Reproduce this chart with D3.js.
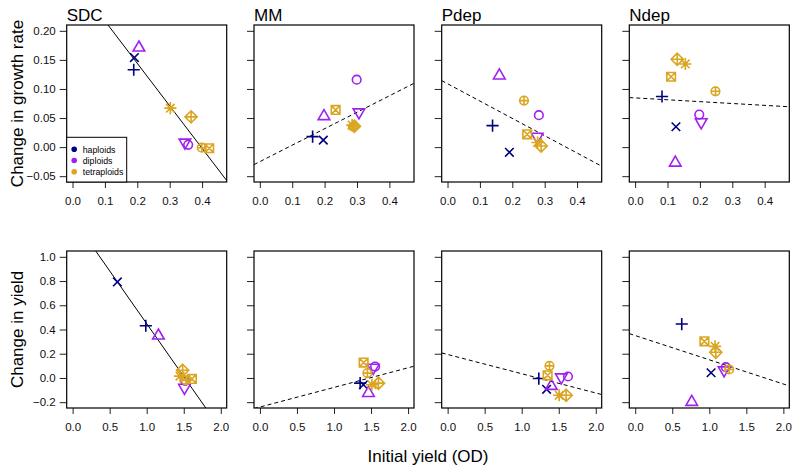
<!DOCTYPE html>
<html><head><meta charset="utf-8">
<script src="https://cdn.jsdelivr.net/npm/d3@7"></script>
<style>body{margin:0;background:#fff}svg{display:block;font-family:"Liberation Sans",Arial,Helvetica,sans-serif}</style>
</head><body><svg id="c" width="800" height="474"></svg>
<script>
// ---------- data ----------
const panels = ["SDC", "MM", "Pdep", "Ndep"];
const strainPloidy = ["haploids","haploids","diploids","diploids","diploids","tetraploids","tetraploids","tetraploids","tetraploids"];
const strainPch = [3, 4, 2, 1, 6, 8, 9, 10, 7];
const ploidyNames = ["haploids", "diploids", "tetraploids"];
const ploidyColors = ["#000080", "#A020F0", "#DAA520"];

// growth-rate row: [initial, change] per strain (same order as strainPch)
const growthSDC  = [[0.189,0.133],[0.191,0.154],[0.205,0.171],[0.357,0.004],[0.347,0.008],[0.302,0.067],[0.366,0.052],[0.399,-0.001],[0.422,-0.002]];
const growthMM   = [[0.163,0.018],[0.196,0.012],[0.198,0.053],[0.299,0.116],[0.306,0.060],[0.285,0.038],[0.292,0.036],[0.288,0.035],[0.234,0.064]];
const growthPdep = [[0.139,0.037],[0.191,-0.009],[0.160,0.123],[0.282,0.055],[0.277,0.018],[0.278,0.008],[0.289,0.002],[0.236,0.080],[0.246,0.022]];
const growthNdep = [[0.083,0.087],[0.126,0.035],[0.124,-0.027],[0.198,0.056],[0.204,0.043],[0.155,0.143],[0.130,0.151],[0.248,0.096],[0.111,0.121]];
// yield row
const yieldSDC  = [[0.988,0.431],[0.604,0.793],[1.158,0.349],[1.52,-0.025],[1.51,-0.080],[1.45,0.015],[1.485,0.063],[1.53,-0.020],[1.61,-0.008]];
const yieldMM   = [[1.353,-0.043],[1.397,-0.056],[1.465,-0.125],[1.555,0.094],[1.53,0.085],[1.511,-0.056],[1.60,-0.043],[1.451,0.040],[1.40,0.127]];
const yieldPdep = [[1.231,-0.005],[1.336,-0.094],[1.40,-0.067],[1.625,0.012],[1.535,0.006],[1.506,-0.143],[1.60,-0.143],[1.375,0.100],[1.35,0.022]];
const yieldNdep = [[0.628,0.445],[1.024,0.043],[0.763,-0.199],[1.223,0.089],[1.20,0.064],[1.078,0.261],[1.088,0.212],[1.268,0.070],[0.934,0.302]];

// fitted lines: intercept, slope, significant (solid) or not (dashed)
const growthFitIntercept = [0.290, -0.025, 0.109, 0.0846];
const growthFitSlope     = [-0.730, 0.283, -0.298, -0.032];
const growthFitSolid     = [true, false, false, false];
const yieldFitIntercept  = [1.320, -0.240, 0.194, 0.350];
const yieldFitSlope      = [-0.872, 0.162, -0.159, -0.200];
const yieldFitSolid      = [true, false, false, false];

const growthXTicks = [0, 0.1, 0.2, 0.3, 0.4];
const growthYTicks = [-0.05, 0, 0.05, 0.10, 0.15, 0.20];
const yieldXTicks  = [0, 0.5, 1.0, 1.5, 2.0];
const yieldYTicks  = [-0.2, 0, 0.2, 0.4, 0.6, 0.8, 1.0];

const growthLabel = "Change in growth rate";
const yieldLabel  = "Change in yield";
const xLabel      = "Initial yield (OD)";

// ---------- layout ----------
const svg = d3.select("#c");
const colLeft = [66.7, 254, 441.7, 629.3];
const pw = 160;
const rowTop = [25, 251];
const ph = 157;

const rows = [
  {data:[growthSDC,growthMM,growthPdep,growthNdep], xdom:[-0.018,0.476], ydom:[-0.06,0.21],
   xt:growthXTicks, yt:growthYTicks, xf:d3.format(".1f"), yf:d3.format(".2f"),
   fi:growthFitIntercept, fs:growthFitSlope, fsolid:growthFitSolid, ylab:growthLabel},
  {data:[yieldSDC,yieldMM,yieldPdep,yieldNdep], xdom:[-0.08,2.08], ydom:[-0.248,1.048],
   xt:yieldXTicks, yt:yieldYTicks, xf:d3.format(".1f"), yf:d3.format(".1f"),
   fi:yieldFitIntercept, fs:yieldFitSlope, fsolid:yieldFitSolid, ylab:yieldLabel}
];

const R = 4.3, S2 = Math.SQRT2;
function pchPath(p){
  const t = 1.347*R, yc = 0.778*R, r = 1.555*R;
  switch(p){
    case 1: return `M${R},0A${R},${R} 0 1,1 ${-R},0A${R},${R} 0 1,1 ${R},0Z`;
    case 2: return `M0,${-r}L${t},${yc}L${-t},${yc}Z`;
    case 6: return `M0,${r}L${t},${-yc}L${-t},${-yc}Z`;
    case 3: { const a=S2*R; return `M${-a},0H${a}M0,${-a}V${a}`; }
    case 4: return `M${-R},${-R}L${R},${R}M${-R},${R}L${R},${-R}`;
    case 7: return `M${-R},${-R}H${R}V${R}H${-R}ZM${-R},${-R}L${R},${R}M${-R},${R}L${R},${-R}`;
    case 8: { const a=S2*R; return `M${-R},${-R}L${R},${R}M${-R},${R}L${R},${-R}M${-a},0H${a}M0,${-a}V${a}`; }
    case 9: { const a=S2*R; return `M0,${-a}L${a},0L0,${a}L${-a},0ZM${-a},0H${a}M0,${-a}V${a}`; }
    case 10: return `M${R},0A${R},${R} 0 1,1 ${-R},0A${R},${R} 0 1,1 ${R},0ZM${-R},0H${R}M0,${-R}V${R}`;
  }
}
const colorOf = d3.scaleOrdinal().domain(ploidyNames).range(ploidyColors);

rows.forEach((row, ri) => {
  panels.forEach((name, ci) => {
    const x0 = colLeft[ci], y0 = rowTop[ri];
    const x = d3.scaleLinear().domain(row.xdom).range([x0, x0+pw]);
    const y = d3.scaleLinear().domain(row.ydom).range([y0+ph, y0]);
    const g = svg.append("g");
    const cid = `clip${ri}_${ci}`;
    svg.append("clipPath").attr("id", cid).append("rect")
      .attr("x", x0).attr("y", y0).attr("width", pw).attr("height", ph);

    // axes
    const xa = g.append("g").attr("transform", `translate(0,${y0+ph})`)
      .call(d3.axisBottom(x).tickValues(row.xt).tickFormat(row.xf).tickSizeOuter(0).tickSize(6).tickPadding(9));
    const ya = g.append("g").attr("transform", `translate(${x0},0)`)
      .call(d3.axisLeft(y).tickValues(row.yt).tickFormat(ci===0 ? row.yf : "").tickSizeOuter(0).tickSize(7).tickPadding(4));
    [xa, ya].forEach(a => {
      a.select(".domain").remove();
      a.selectAll("line").attr("stroke", "#222").attr("stroke-width", 1);
      a.selectAll("text").attr("font-size", "11.5px").attr("fill", "#111")
        .attr("font-family", '"Liberation Sans",Arial,sans-serif');
    });

    // fit line
    const a0 = row.fi[ci], b = row.fs[ci];
    const xs = [row.xdom[0], row.xdom[1]];
    g.append("line").attr("clip-path", `url(#${cid})`)
      .attr("x1", x(xs[0])).attr("y1", y(a0 + b*xs[0]))
      .attr("x2", x(xs[1])).attr("y2", y(a0 + b*xs[1]))
      .attr("stroke", "#000").attr("stroke-width", 1)
      .attr("stroke-dasharray", row.fsolid[ci] ? null : "4,3");

    // points
    g.append("g").attr("clip-path", `url(#${cid})`).selectAll("path")
      .data(row.data[ci]).join("path")
      .attr("transform", d => `translate(${x(d[0])},${y(d[1])})`)
      .attr("d", (d, i) => pchPath(strainPch[i]))
      .attr("fill", "none")
      .attr("stroke", (d, i) => colorOf(strainPloidy[i]))
      .attr("stroke-width", 1.6);

    // box
    g.append("rect").attr("x", x0).attr("y", y0).attr("width", pw).attr("height", ph)
      .attr("fill", "none").attr("stroke", "#000").attr("stroke-width", 1.2);

    // title
    if (ri === 0) {
      g.append("text").attr("x", x0).attr("y", y0 - 4).attr("font-size", "17px").text(name);
    }
  });
  // y label
  const cy = rowTop[ri] + ph/2;
  svg.append("text").attr("transform", `translate(23,${cy}) rotate(-90)`)
    .attr("text-anchor", "middle").attr("font-size", "17px").text(row.ylab);
});

// x label
svg.append("text").attr("x", (colLeft[0] + colLeft[3] + pw)/2).attr("y", 462)
  .attr("text-anchor", "middle").attr("font-size", "17px").text(xLabel);

// legend
const lg = svg.append("g");
lg.append("rect").attr("x", colLeft[0]).attr("y", 137.3).attr("width", 60).attr("height", rowTop[0]+ph-137.3)
  .attr("fill", "#fff").attr("stroke", "#000").attr("stroke-width", 1);
ploidyNames.forEach((p, i) => {
  const yy = 149.3 + i*11.2;
  lg.append("circle").attr("cx", colLeft[0] + 7.5).attr("cy", yy).attr("r", 2.8).attr("fill", colorOf(p));
  lg.append("text").attr("x", colLeft[0] + 16).attr("y", yy + 3.2).attr("font-size", "8.8px").text(p);
});
</script></body></html>
